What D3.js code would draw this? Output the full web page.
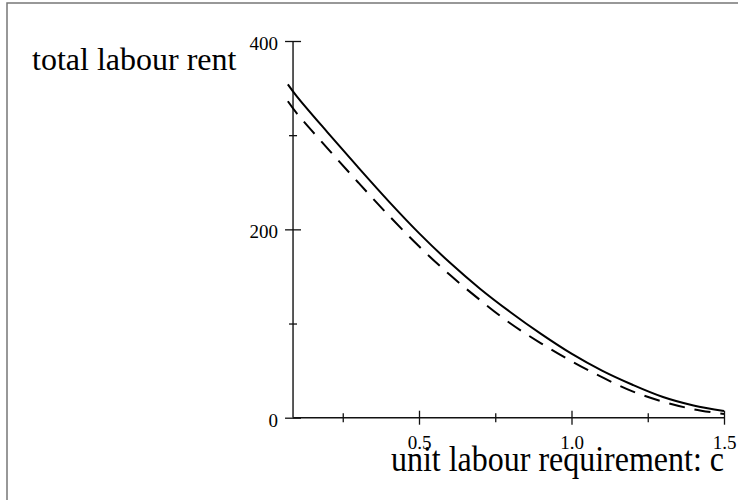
<!DOCTYPE html>
<html>
<head>
<meta charset="utf-8">
<script src="https://cdn.jsdelivr.net/npm/d3@7"></script>
<style>
  html, body { margin: 0; padding: 0; background: #fff; }
  svg { display: block; }
  text { font-family: "Liberation Serif", "Times New Roman", serif; fill: #000; }
</style>
</head>
<body>
<div id="chart"></div>
<script>
// unit labour requirement c (sample points)
var cValues = [0.07, 0.1, 0.2, 0.3, 0.4, 0.5, 0.6, 0.7, 0.8, 0.9, 1.0, 1.1, 1.2, 1.3, 1.4, 1.5];
// total labour rent, solid curve
var rentSolid = [354, 341, 303, 266, 230, 196, 165, 137, 112, 89, 68, 50, 35, 22, 13, 7];
// total labour rent, dashed curve
var rentDashed = [336, 323, 286, 250, 215, 182, 152, 125, 100, 79, 60, 43, 28, 17, 9, 4];

var xMajor = [0.5, 1.0, 1.5],
    xMinor = [0.25, 0.75, 1.25],
    yMajor = [0, 200, 400],
    yMinor = [100, 300];
var xAxisStart = 0.087;   // where the vertical axis crosses

var W = 738, H = 500;

var svg = d3.select('#chart').append('svg')
    .attr('width', W)
    .attr('height', H);

// frame (cut off on the right and bottom)
svg.append('rect')
    .attr('x', 7).attr('y', 3)
    .attr('width', 760).attr('height', 520)
    .attr('fill', '#fff')
    .attr('stroke', '#777')
    .attr('stroke-width', 1.5);

var x = d3.scaleLinear().domain([0.5, 1.5]).range([419, 724]),
    y = d3.scaleLinear().domain([0, 400]).range([417.7, 41]);

var x0 = x(xAxisStart), y0 = y(0);

// axis lines
svg.append('line')
    .attr('x1', x0).attr('x2', x(1.5))
    .attr('y1', y0).attr('y2', y0)
    .attr('stroke', '#111').attr('stroke-width', 1.5);
svg.append('line')
    .attr('x1', x0).attr('x2', x0)
    .attr('y1', y(0)).attr('y2', y(400))
    .attr('stroke', '#222').attr('stroke-width', 1.5);

function cleanAxis(g) {
  g.select('.domain').remove();
  g.selectAll('.tick line')
    .attr('stroke', '#111').attr('stroke-width', 1.3);
}

// y axis
var gy = svg.append('g')
    .attr('transform', 'translate(' + x0 + ',0)')
    .call(d3.axisLeft(y).tickValues(yMajor).tickSize(8).tickPadding(7)
      .tickFormat(d3.format('d')));
cleanAxis(gy);
gy.selectAll('.tick line').attr('x1', 8);
gy.selectAll('.tick text')
    .attr('font-size', 19).attr('dy', '0.45em')
    .style('font-family', '"Liberation Serif", serif');

var gyMinor = svg.append('g')
    .attr('transform', 'translate(' + x0 + ',0)')
    .call(d3.axisLeft(y).tickValues(yMinor).tickSize(4).tickFormat(''));
cleanAxis(gyMinor);
gyMinor.selectAll('.tick line').attr('x1', 4);

// x axis
var gx = svg.append('g')
    .attr('transform', 'translate(0,' + y0 + ')')
    .call(d3.axisBottom(x).tickValues(xMajor).tickSize(7).tickPadding(11)
      .tickFormat(d3.format('.1f')));
cleanAxis(gx);
gx.selectAll('.tick line').attr('y1', -7);
gx.selectAll('.tick text')
    .attr('font-size', 19)
    .style('font-family', '"Liberation Serif", serif');

var gxMinor = svg.append('g')
    .attr('transform', 'translate(0,' + y0 + ')')
    .call(d3.axisBottom(x).tickValues(xMinor).tickSize(4.5).tickFormat(''));
cleanAxis(gxMinor);
gxMinor.selectAll('.tick line').attr('y1', -4.5);

// curves
var line = d3.line()
    .x(function(d) { return x(d[0]); })
    .y(function(d) { return y(d[1]); })
    .curve(d3.curveCatmullRom);

svg.append('path')
    .datum(cValues.map(function(c, i) { return [c, rentDashed[i]]; }))
    .attr('d', line)
    .attr('fill', 'none')
    .attr('stroke', '#000')
    .attr('stroke-width', 2)
    .attr('stroke-dasharray', '16,10');

svg.append('path')
    .datum(cValues.map(function(c, i) { return [c, rentSolid[i]]; }))
    .attr('d', line)
    .attr('fill', 'none')
    .attr('stroke', '#000')
    .attr('stroke-width', 2);

// titles
svg.append('text')
    .attr('x', 32).attr('y', 70)
    .attr('font-size', 32)
    .text('total labour rent');

svg.append('text')
    .attr('transform', 'translate(724,471) scale(1,1.15)')
    .attr('text-anchor', 'end')
    .attr('font-size', 32)
    .text('unit labour requirement: c');
</script>
</body>
</html>
